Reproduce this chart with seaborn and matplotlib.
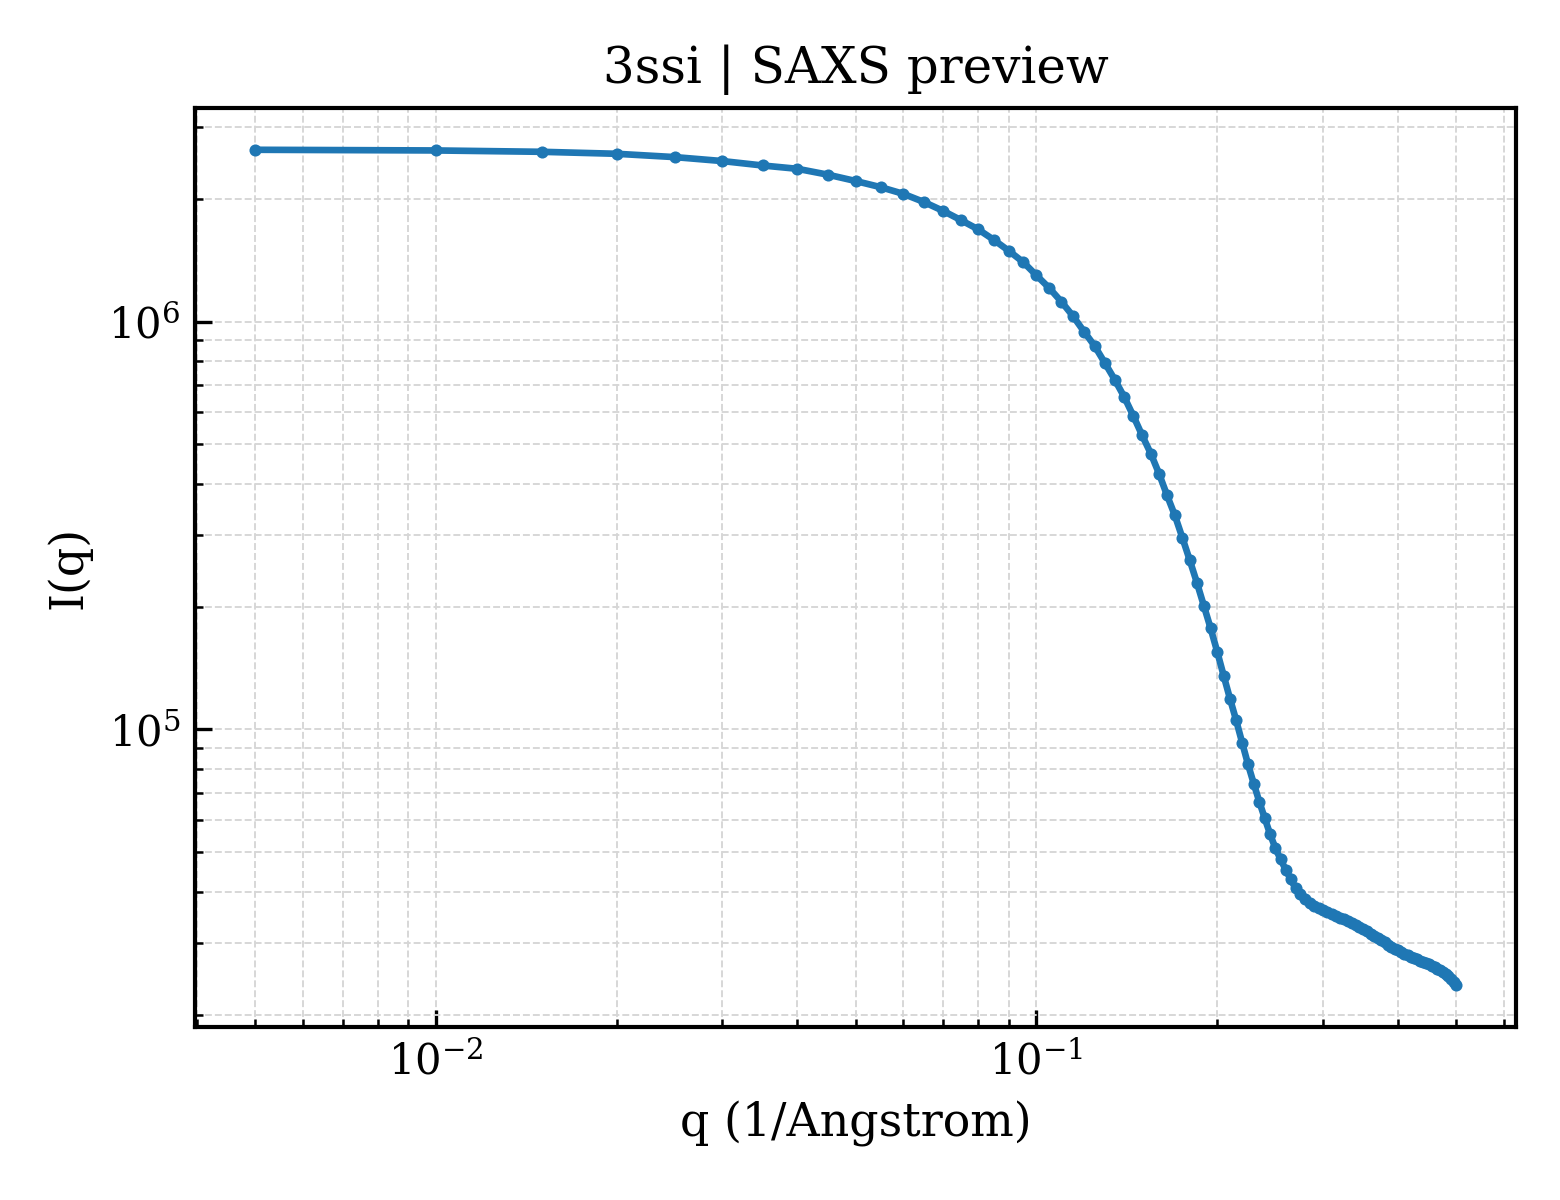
import matplotlib
matplotlib.use("Agg")
import matplotlib.pyplot as plt
import seaborn as sns
import pandas as pd

title = "3ssi | SAXS preview"
x_label = "q (1/Angstrom)"
y_label = "I(q)"

q_values = [
    0.005, 0.010, 0.015, 0.020, 0.025, 0.030, 0.035, 0.040, 0.045, 0.050,
    0.055, 0.060, 0.065, 0.070, 0.075, 0.080, 0.085, 0.090, 0.095, 0.100,
    0.105, 0.110, 0.115, 0.120, 0.125, 0.130, 0.135, 0.140, 0.145, 0.150,
    0.155, 0.160, 0.165, 0.170, 0.175, 0.180, 0.185, 0.190, 0.195, 0.200,
    0.205, 0.210, 0.215, 0.220, 0.225, 0.230, 0.235, 0.240, 0.245, 0.250,
    0.255, 0.260, 0.265, 0.270, 0.275, 0.280, 0.285, 0.290, 0.295, 0.300,
    0.305, 0.310, 0.315, 0.320, 0.325, 0.330, 0.335, 0.340, 0.345, 0.350,
    0.355, 0.360, 0.365, 0.370, 0.375, 0.380, 0.385, 0.390, 0.395, 0.400,
    0.405, 0.410, 0.415, 0.420, 0.425, 0.430, 0.435, 0.440, 0.445, 0.450,
    0.455, 0.460, 0.465, 0.470, 0.475, 0.480, 0.485, 0.490, 0.495, 0.500,
]

intensity = [
    2.640e6, 2.630e6, 2.610e6, 2.581e6, 2.533e6, 2.477e6, 2.416e6, 2.371e6, 2.293e6, 2.213e6,
    2.138e6, 2.059e6, 1.965e6, 1.868e6, 1.772e6, 1.684e6, 1.586e6, 1.491e6, 1.401e6, 1.299e6,
    1.210e6, 1.120e6, 1.033e6, 9.46e5, 8.72e5, 7.92e5, 7.21e5, 6.54e5, 5.87e5, 5.26e5,
    4.75e5, 4.24e5, 3.75e5, 3.35e5, 2.95e5, 2.60e5, 2.29e5, 2.01e5, 1.77e5, 1.55e5,
    1.354e5, 1.19e5, 1.054e5, 9.29e4, 8.22e4, 7.37e4, 6.65e4, 6.05e4, 5.53e4, 5.11e4,
    4.80e4, 4.53e4, 4.29e4, 4.08e4, 3.953e4, 3.846e4, 3.757e4, 3.694e4, 3.646e4, 3.601e4,
    3.561e4, 3.525e4, 3.491e4, 3.456e4, 3.423e4, 3.385e4, 3.356e4, 3.318e4, 3.272e4, 3.235e4,
    3.199e4, 3.154e4, 3.109e4, 3.074e4, 3.040e4, 3.006e4, 2.969e4, 2.934e4, 2.901e4, 2.873e4,
    2.844e4, 2.817e4, 2.793e4, 2.773e4, 2.754e4, 2.731e4, 2.711e4, 2.692e4, 2.673e4, 2.655e4,
    2.632e4, 2.610e4, 2.588e4, 2.566e4, 2.545e4, 2.516e4, 2.481e4, 2.446e4, 2.405e4, 2.357e4,
]

sns.set_style("ticks")
plt.rcParams["font.family"] = ["DejaVu Serif"]
plt.rcParams["mathtext.fontset"] = "dejavuserif"
plt.rcParams["text.color"] = "black"
plt.rcParams["axes.labelcolor"] = "black"
plt.rcParams["xtick.color"] = "black"
plt.rcParams["ytick.color"] = "black"

df = pd.DataFrame({"q": q_values, "I": intensity})

fig, ax = plt.subplots(figsize=(5.2, 4.0), dpi=300)
fig.subplots_adjust(left=0.125, right=0.972, top=0.91, bottom=0.144)

sns.lineplot(data=df, x="q", y="I", ax=ax, color="#1f77b4", linewidth=1.6,
             marker="o", markersize=2.9, markeredgewidth=0,
             markeredgecolor="#1f77b4", sort=False, estimator=None)

ax.set_xscale("log")
ax.set_yscale("log")

ax.grid(True, which="both", linestyle="--", linewidth=0.45, color="#d6d6d6")
ax.set_axisbelow(True)

ax.tick_params(which="both", direction="in", top=False, right=False,
               labelsize=10, colors="black")
ax.tick_params(which="major", length=4, width=0.8)
ax.tick_params(which="minor", length=2, width=0.6)
for s in ax.spines.values():
    s.set_linewidth(1.0)
    s.set_color("black")

ax.set_xlabel(x_label, fontsize=11, color="black")
ax.set_ylabel(y_label, fontsize=11, color="black")
ax.set_title(title, fontsize=12, color="black")

fig.savefig("out.png", dpi=300)
